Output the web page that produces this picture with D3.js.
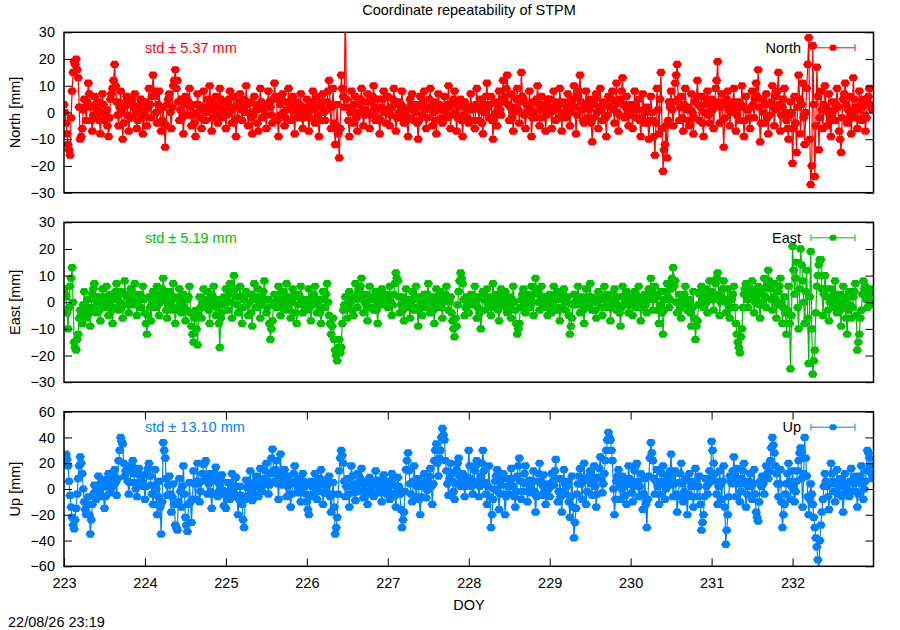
<!DOCTYPE html>
<html><head><meta charset="utf-8">
<script src="https://cdn.jsdelivr.net/npm/d3@7"></script>
<style>body{margin:0;background:#fff}svg{display:block;font-family:"Liberation Sans",Arial,Helvetica,sans-serif}</style>
</head><body><svg id="c" width="900" height="630"></svg>
<script>
// ---- data (DOY sampling: start + k*step, 80 samples per day) ----
const doyStart = 223;
const stepDays = 0.0125;
const xTickValues = [223,224,225,226,227,228,229,230,231,232];
const nyTicks = [-30,-20,-10,0,10,20,30];
const upTicks = [-60,-40,-20,0,20,40,60];

const northValues = [
 3,0,-4,-8,-12,-14,-16,-2,8,15,19,18,20,16,13,2,-10,-9,-6,1, 5,2,-3,4,11,7,2,-3,-7,-1,6,3,-2,1,4,-3,-8,0,7,3, -3,-1,1,-5,-9,-2,5,7,9,12,18,10,4,-1,-5,2,8,0,-10,-4, 2,4,6,-1,-7,-2,3,5,-2,2,7,0,-6,-3,1,3,5,-2,-8,-1,
 4,1,-5,2,9,3,-2,6,14,8,6,0,-4,3,8,1,-7,-3,2,-4, -13,-5,3,5,7,0,-6,2,10,12,16,9,12,4,-3,1,5,-2,-8,-1, 6,3,-1,4,9,2,-5,-1,3,-4,-9,0,7,3,2,-2,-6,1,8,2, -3,0,5,2,10,4,-7,-2,1,3,6,-1,-4,2,9,5,-2,0,4,1,
 -6,-1,3,5,8,2,-4,1,6,-3,-9,-2,2,4,7,1,-3,2,5,0, 10,3,-5,0,4,-2,-8,-1,6,3,1,-4,-7,2,9,4,-2,1,3,-1, -6,2,8,4,2,-1,-4,5,11,6,5,-3,-9,-1,3,5,7,0,-5,-2, 1,4,9,2,-3,3,6,-2,-8,0,4,1,-2,3,7,-1,-6,-2,2,1,
 5,0,-7,-2,3,4,8,1,-4,2,6,-1,-9,-3,2,4,7,0,-3,1, 4,8,12,3,-6,2,9,-4,-12,-5,3,-8,-17,-6,14,9,6,2,45,5, 2,-3,-9,0,8,2,-4,3,6,-2,-7,0,3,5,9,1,-5,-1,1,4, 7,0,-6,-1,4,6,10,2,-3,1,5,-2,-8,-3,2,5,8,0,-4,1,
 6,1,-5,-1,2,5,9,3,-7,-2,4,0,-2,3,8,2,-4,-1,1,-3, -9,-2,5,3,7,1,-3,0,3,-4,-10,-3,6,2,-1,4,8,1,-6,-2, 2,5,9,2,-5,0,4,-3,-8,1,7,3,1,-2,-4,2,6,0,-2,3, 10,2,-6,-1,3,5,8,0,-7,-2,2,4,5,-3,-9,-1,4,2,1,-2,
 -4,2,7,1,2,-3,-6,3,9,2,-3,1,5,-4,-8,0,3,6,11,2, -2,3,6,-3,-10,-1,4,0,-5,3,8,1,-1,5,12,4,6,9,14,3, -3,2,7,-2,-7,0,2,5,9,1,-4,4,15,6,5,-1,-6,0,3,2, 8,1,-9,-2,4,0,-2,5,10,3,-5,1,6,-2,1,3,-7,-1,5,2,
 5,0,-6,2,8,1,-3,4,2,-2,9,3,-7,0,4,-1,-2,3,7,1, -5,0,3,5,10,2,-8,-1,6,8,14,4,1,-3,-4,2,8,3,-2,1, 5,-4,-11,-2,3,5,7,0,-6,2,9,1,-3,3,4,-2,-9,-1,6,2, 2,5,8,1,-4,3,11,0,-7,-1,5,8,13,3,-2,2,6,-1,-5,0,
 3,-1,-6,2,8,3,-2,1,5,-3,-9,-2,7,1,-4,0,2,-4,-10,-3, 6,0,-3,-9,-16,-4,9,1,-8,5,15,-6,-22,-14,-12,-5,-17,-3,4,2, 8,1,-5,4,11,14,18,5,-3,2,6,-2,-7,3,9,1,2,-3,-5,1, 7,0,-8,-2,4,6,12,3,-3,2,6,-4,-9,0,3,5,8,-1,-4,2,
 5,1,-6,3,9,12,19,4,-4,2,7,-3,-13,-2,3,5,8,1,-5,0, 2,4,9,0,-7,-1,4,2,-3,3,10,2,-9,-3,6,1,1,-2,-6,2, 8,3,-2,5,11,6,16,2,-11,-4,5,0,-4,3,7,-2,-8,-1,3,4, 10,2,-5,1,6,8,15,3,-7,-1,2,5,9,0,-3,-6,-10,-1,4,0,
 -19,-6,6,-4,-15,2,14,5,-8,3,11,-2,-12,0,9,18,28,-10,-27,-20, 25,3,-24,-5,17,6,-14,-2,8,1,-6,3,10,2,-5,0,7,-3,-9,-1, 4,1,-3,3,9,2,-7,-10,-15,-2,5,7,11,3,-4,1,6,-2,-8,0, 13,5,2,-2,-6,1,8,3,-3,2,5,-1,-7,-2,4,6,9,3,2,1
];

const eastValues = [
 5,3,2,-4,-10,-2,6,9,13,0,-15,-17,-18,-14,-12,-6,-3,-5,-8,-1, 4,-1,-6,-3,1,-4,-9,-2,3,5,7,1,-4,0,2,-3,-7,-1,5,2, -2,1,6,0,-5,-1,3,-3,-8,-2,1,4,7,2,-3,0,4,-2,-6,-1, 8,3,2,-1,-4,1,5,2,-1,3,7,0,-5,-1,3,1,-2,2,6,1,
 -4,-8,-12,-5,2,-2,-7,-1,4,0,-2,2,6,-1,-5,0,3,5,9,2, 1,-3,-6,-1,4,0,-3,2,7,-2,-8,-3,2,1,5,-1,-4,0,3,-2, -7,-3,1,2,6,-4,-9,-12,-15,-6,-3,-10,-16,-5,2,-2,-6,0,5,1, -2,1,4,-3,-8,-1,3,2,6,0,-5,-2,1,-8,-17,-6,-4,-1,2,0,
 5,1,-3,3,7,0,-6,4,10,5,2,-1,-4,2,6,-2,-8,-2,1,3, 4,-1,-5,0,3,-4,-9,1,7,2,-2,1,5,-1,-6,-1,2,4,8,1, -4,-2,1,-8,-14,-10,-7,-1,3,0,-2,2,6,-1,-5,0,4,1,-3,2, 7,2,-1,-3,-6,0,5,3,2,-4,-8,-1,3,2,6,0,-4,-1,1,-2,
 -3,1,5,-2,-7,-1,2,3,6,0,-4,-1,1,-4,-8,-2,4,1,-2,3, 7,0,-5,-8,-12,-9,-6,-14,-18,-20,-22,-17,-14,-19,-17,-8,-3,-1,2,-2, -6,-1,4,0,1,-3,-5,2,7,1,-2,3,5,6,9,2,-4,0,3,-1, -7,-2,6,2,1,-2,-3,1,4,-3,-8,-1,2,3,5,0,-1,2,3,0,
 -2,2,6,0,-5,-1,3,7,11,9,8,2,-4,-1,2,-3,-7,0,5,1, 1,-2,-6,0,4,1,-3,2,6,-2,-9,-3,2,0,-5,1,3,-2,-1,3, 7,1,-4,0,2,-3,-8,-1,5,2,-2,1,4,-2,-6,0,1,3,6,1, -3,0,2,-4,-7,-10,-13,-6,-9,-1,4,8,11,9,7,1,-5,-2,2,0,
 -4,0,3,1,-1,2,6,0,-6,-2,2,-4,-10,-3,4,1,-3,2,5,0, 1,-2,-5,2,7,1,-2,0,3,-3,-7,0,5,2,-1,1,4,-2,-4,0, 2,-2,-6,1,6,0,-3,-8,-12,-10,-8,-2,1,3,5,0,-4,-1,3,1, -2,2,6,0,-5,3,9,5,4,0,-3,2,6,1,-1,0,2,-2,-5,-1,
 3,0,-4,1,6,2,-2,1,4,-3,-7,-2,1,3,5,0,-3,0,2,-5, -12,-9,-6,-1,3,0,-1,2,6,1,-4,-1,2,-3,-8,-1,5,1,-2,2, 7,2,-3,0,1,-3,-6,0,4,3,2,-2,-5,1,6,2,-2,0,3,1, -7,-2,1,3,5,0,-3,-1,2,-4,-9,-2,6,2,-1,1,4,0,-4,-1,
 2,-1,-5,0,4,1,-2,2,6,-1,-7,-2,1,2,3,-1,-4,1,5,4, 9,2,-3,1,6,3,2,-3,-8,-1,4,-4,-12,-3,1,4,7,2,-2,1, 5,9,13,6,8,0,-4,0,3,-2,-6,-1,2,3,6,0,-3,-1,1,-4, -9,-2,4,-6,-14,-9,-7,-1,3,4,6,1,-2,2,5,0,-4,2,8,3,
 4,1,-3,2,7,9,11,3,-5,0,2,5,8,1,-4,0,5,-1,-6,-2, 1,3,6,-2,-8,-12,-15,-17,-19,-13,-10,-2,3,5,7,1,-2,1,5,3, 8,2,-4,0,2,4,6,-1,-6,0,3,5,9,2,-2,6,12,8,5,1, -3,2,7,1,-6,-1,4,6,9,0,-8,-2,2,-4,-12,-3,6,-8,-25,-5,
 21,12,3,9,15,-2,-10,5,20,14,8,0,-8,4,12,-6,-23,2,19,-10, -27,-22,-18,-4,6,10,14,16,16,5,-5,3,10,5,2,-3,-7,0,5,1, -2,3,8,2,-4,0,3,-3,-9,-1,6,2,1,-6,-12,-3,4,-1,-6,-2, 2,4,7,-5,-18,-15,-12,-6,-3,3,8,5,6,1,-2,1,3,5,0,-1
];

const upValues = [
 22,25,27,23,18,6,-5,-14,-22,-28,-31,-24,-15,-4,8,18,25,20,12,0, -10,-16,-20,-12,-6,-20,-35,-24,-12,-4,3,-2,-8,2,10,3,-4,1,7,-6, -15,-6,2,8,12,4,-3,1,6,10,15,5,-5,8,22,30,40,37,35,20, 10,14,18,6,-4,5,14,18,22,12,5,0,-6,4,16,10,3,6,11,2,
 -8,2,12,16,20,10,3,-4,-12,2,15,0,-20,-6,6,-14,-35,-10,36,30, 24,8,-5,3,10,-4,-18,-6,4,-12,-28,-30,-32,-10,8,-2,-14,2,18,-4, -22,-28,-33,-12,5,-10,-26,-8,14,4,-8,6,20,4,-10,-2,6,12,19,20, 22,8,-4,4,12,-2,-15,-4,8,12,17,6,-6,-2,3,7,11,-1,-13,-4,
 -15,-6,5,-2,-8,4,12,3,-3,2,9,-6,-20,-8,2,-5,-12,-24,-30,-8, 7,1,-5,4,14,2,-9,-3,4,6,10,2,-6,5,16,6,-2,3,8,14, 20,6,-4,3,12,24,31,14,6,15,22,4,-8,10,27,12,3,8,15,4, -6,2,10,-4,-14,-4,5,12,18,6,-3,2,8,-2,-10,1,12,6,2,-4,
 -10,-16,-20,-6,6,2,-4,4,12,2,-8,-2,3,8,15,4,-12,-3,7,2, -3,4,10,-6,-18,-4,5,-14,-35,-30,-22,-4,14,24,30,26,20,6,-6,2, 8,-4,-14,2,18,10,4,-3,-9,2,12,5,-2,8,16,4,-7,-1,5,-4, -12,-3,9,4,2,-3,-6,4,14,6,-3,2,7,-2,-10,-1,11,5,0,-4,
 6,-2,-8,3,12,8,3,-5,-14,-2,9,2,-4,-16,-30,-24,-18,-2,15,22, 28,14,4,-4,-10,6,18,6,-6,2,8,-8,-20,-6,2,6,12,2,-7,-1, 5,10,16,2,-12,4,22,30,35,20,10,24,30,40,47,42,38,22,14,4, -5,8,20,12,6,-2,-8,4,15,20,24,10,2,6,12,3,-6,2,9,4,
 30,18,8,2,-4,6,14,18,22,6,-6,2,10,20,30,14,5,-4,-12,2, 18,-6,-30,-20,-8,0,6,10,15,-2,-16,-4,3,8,12,-4,-20,-6,8,2, -4,6,16,8,2,-6,-14,-2,10,18,24,6,-8,-2,5,12,18,4,-10,-2, 7,2,-3,6,14,-2,-18,-6,6,12,20,6,-5,3,11,-2,-12,-4,4,0,
 -6,2,12,6,3,14,23,8,-10,-2,8,-6,-18,-2,15,4,-4,2,6,-10, -22,-6,10,-14,-38,-26,-15,-4,4,10,16,4,-8,6,20,8,-12,-2,7,10, 14,4,-5,6,18,2,-14,-4,9,16,25,8,-3,4,12,22,30,38,44,40, 38,30,22,0,-20,-8,6,10,15,2,-8,0,10,6,2,-5,-12,4,18,8,
 4,-3,-10,2,14,18,20,6,-6,2,12,-4,-16,-4,8,-12,-30,-8,10,24, 36,28,22,8,-4,6,15,2,-12,-4,6,12,18,4,-8,0,10,6,3,14, 27,10,-6,4,14,-4,-18,-6,5,12,20,4,-10,-2,8,-6,-20,-4,12,6, 2,-6,-14,2,16,6,-6,2,10,-12,-32,-26,-20,-6,8,2,-4,4,14,8,
 37,30,20,12,6,-4,-12,2,14,4,-8,6,18,-14,-43,-32,-20,-6,10,6, 4,14,25,10,-6,6,16,4,-10,-2,8,14,20,4,-14,-4,2,6,12,2, -8,4,15,-4,-18,-22,-25,-10,6,2,10,4,-4,8,18,12,8,14,22,32, 40,34,28,18,12,4,-6,4,15,-10,-30,-20,-12,-4,4,12,20,6,-8,2,
 14,2,-10,-2,6,14,22,28,32,8,-14,12,40,24,10,-6,-20,-8,4,-4, -12,-22,-30,-38,-45,-55,-65,-40,-28,-18,-8,2,12,6,2,-6,-16,4,20,12, 6,-2,-10,4,15,6,-4,2,8,-6,-18,-4,12,4,0,-3,-6,6,16,6, -2,4,10,-2,-14,-4,5,10,18,4,-8,0,6,14,30,28,24,18,12,8
];

// ---- layout ----
const svg = d3.select('#c');
const left = 64, right = 873.5;
const FS = 14.5;
const x = d3.scaleLinear().domain([223, 233]).range([left, right]);

const panels = [
  {key:'North', label:'North [mm]', color:'#ff0000', values:northValues, std:'std \u00b1 5.37 mm', top:32.3, bottom:192.7, domain:[-30,30], ticks:nyTicks, xaxis:false},
  {key:'East', label:'East [mm]', color:'#00c000', values:eastValues, std:'std \u00b1 5.19 mm', top:222.3, bottom:382.2, domain:[-30,30], ticks:nyTicks, xaxis:false},
  {key:'Up', label:'Up [mm]', color:'#0080ff', values:upValues, std:'std \u00b1 13.10 mm', top:411.7, bottom:566.3, domain:[-60,60], ticks:upTicks, xaxis:true}
];

const markerPath = 'M-4.8,0L-2.6,-3.6L2.6,-3.6L4.8,0L2.6,3.6L-2.6,3.6Z';
const legendMarker = 'M-4,0L-2.3,-3L2.3,-3L4,0L2.3,3L-2.3,3Z';
const fontFam = '"Liberation Sans",Arial,sans-serif';

panels.forEach((p, pi) => {
  const y = d3.scaleLinear().domain(p.domain).range([p.bottom, p.top]);
  const data = p.values.map((v, k) => ({t: doyStart + k * stepDays, v}));
  const cid = 'clip' + pi;
  svg.append('clipPath').attr('id', cid).append('rect')
    .attr('x', left).attr('y', p.top).attr('width', right - left).attr('height', p.bottom - p.top);
  const g = svg.append('g').attr('clip-path', `url(#${cid})`);
  g.append('path').datum(data)
    .attr('d', d3.line().x(d => x(d.t)).y(d => y(d.v)))
    .attr('fill', 'none').attr('stroke', p.color).attr('stroke-width', 1.2);
  g.selectAll('path.m').data(data).join('path').attr('class', 'm')
    .attr('d', markerPath)
    .attr('transform', d => `translate(${x(d.t)},${y(d.v)})`)
    .attr('fill', p.color);

  const ya = svg.append('g').attr('transform', `translate(${left},0)`)
    .call(d3.axisLeft(y).tickValues(p.ticks).tickSize(-8).tickPadding(9));
  ya.select('.domain').remove();
  ya.selectAll('text').attr('font-size', FS).attr('font-family', fontFam).attr('fill', '#000');
  ya.selectAll('line').attr('stroke', '#000');
  const yr = svg.append('g').attr('transform', `translate(${right},0)`)
    .call(d3.axisRight(y).tickValues(p.ticks).tickSize(-8).tickFormat(''));
  yr.select('.domain').remove();
  yr.selectAll('line').attr('stroke', '#000');

  if (p.xaxis) {
    const xb = svg.append('g').attr('transform', `translate(0,${p.bottom})`)
      .call(d3.axisBottom(x).tickValues(xTickValues).tickSize(-8).tickPadding(11).tickFormat(d3.format('d')));
    xb.select('.domain').remove();
    xb.selectAll('text').attr('font-size', FS).attr('font-family', fontFam).attr('fill', '#000');
    xb.selectAll('line').attr('stroke', '#000');
    const xt = svg.append('g').attr('transform', `translate(0,${p.top})`)
      .call(d3.axisTop(x).tickValues(xTickValues).tickSize(-8).tickFormat(''));
    xt.select('.domain').remove();
    xt.selectAll('line').attr('stroke', '#000');
  }

  svg.append('rect').attr('x', left).attr('y', p.top).attr('width', right - left).attr('height', p.bottom - p.top)
    .attr('fill', 'none').attr('stroke', '#000').attr('stroke-width', 1.5);

  const cy = (p.top + p.bottom) / 2;
  svg.append('text').attr('transform', `translate(15,${cy}) rotate(-90)`)
    .attr('text-anchor', 'middle').attr('dy', '0.35em').attr('font-size', FS).text(p.label);

  const ty = p.top + 15.5;
  svg.append('text').attr('x', 145).attr('y', ty).attr('dy', '0.35em')
    .attr('font-size', FS).attr('fill', p.color).text(p.std);

  svg.append('text').attr('x', 801).attr('y', ty).attr('dy', '0.35em').attr('text-anchor', 'end')
    .attr('font-size', FS).attr('fill', '#000').text(p.key);
  const lg = svg.append('g').attr('stroke', p.color).attr('stroke-width', 1);
  lg.append('line').attr('x1', 811).attr('x2', 855).attr('y1', ty).attr('y2', ty);
  lg.append('line').attr('x1', 811).attr('x2', 811).attr('y1', ty - 3.5).attr('y2', ty + 3.5);
  lg.append('line').attr('x1', 855).attr('x2', 855).attr('y1', ty - 3.5).attr('y2', ty + 3.5);
  svg.append('path').attr('d', legendMarker).attr('transform', `translate(833,${ty})`).attr('fill', p.color);
});

svg.append('text').attr('x', 469).attr('y', 10).attr('dy', '0.35em').attr('text-anchor', 'middle')
  .attr('font-size', FS).text('Coordinate repeatability of STPM');
svg.append('text').attr('x', 469).attr('y', 605).attr('dy', '0.35em').attr('text-anchor', 'middle')
  .attr('font-size', FS).text('DOY');
svg.append('text').attr('x', 8).attr('y', 622).attr('dy', '0.35em')
  .attr('font-size', FS).text('22/08/26 23:19');
</script></body></html>
